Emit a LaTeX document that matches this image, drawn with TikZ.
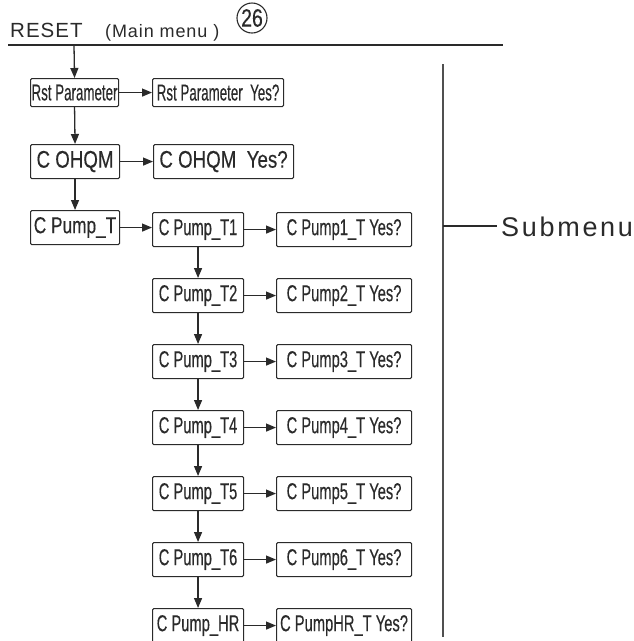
\documentclass[tikz,border=0pt]{standalone}
\usepackage{fontspec}
\setmainfont{Liberation Sans}
\newfontfamily\fA{Liberation Sans}[FakeStretch=0.64,FakeBold=0.3]
\newfontfamily\fP{Liberation Sans}[FakeStretch=0.75,FakeBold=0.3]
\newfontfamily\fR{Liberation Sans}[FakeStretch=0.58,FakeBold=0.3]
\newfontfamily\fO{Liberation Sans}[FakeStretch=0.78,FakeBold=0.3]
\newfontfamily\fT{Liberation Sans}[LetterSpace=5]
\newfontfamily\fM{Liberation Sans}[LetterSpace=5]
\newfontfamily\fS{Liberation Sans}[LetterSpace=10]
\usetikzlibrary{arrows.meta}
\definecolor{ink}{HTML}{2A2A2A}
\definecolor{rule}{HTML}{505050}
\tikzset{
  mbox/.style={draw=ink, line width=1.1pt, rounded corners=1.2pt, inner sep=0pt,
     anchor=north west, text=ink},
  arr/.style={draw=ink, line width=1.3pt, -{Triangle[length=10pt,width=8pt]}},
  plain/.style={draw=ink, line width=1.3pt},
}
\newcommand{\bx}[6]{% name, x1, y1, x2, y2, content
  \node[mbox, minimum width={(#4-#2)*1pt}, minimum height={(#5-#3)*1pt}] (#1) at (#2,#3) {#6};}
\begin{document}
\begin{tikzpicture}[x=1pt,y=-1pt]
\useasboundingbox (0,0) rectangle (634,641);
% title
\node[anchor=base west, inner sep=0pt, text=ink, font=\fT\fontsize{20.5}{20.5}\selectfont] (reset) at (10,37) {RESET};
\node[anchor=base west, inner sep=0pt, text=ink, font=\fM\fontsize{18}{18}\selectfont] (mm) at (105,37) {(Main menu )};
\node[draw=ink, line width=1.1pt, circle, minimum size=30pt, inner sep=0pt, text=ink,
      font=\fO\fontsize{25}{25}\selectfont] (num) at (252,18) {26};
\draw[draw=ink, line width=2pt] (8,45) coordinate (tl) -- (503,45) coordinate (tr);
\coordinate (top) at (74,45);
% boxes
\bx{rst}{30}{78}{118}{106}{\fR\fontsize{23}{23}\selectfont Rst Parameter}
\bx{rstY}{152}{78}{283}{106}{\fR\fontsize{23}{23}\selectfont Rst Parameter\ \ Yes?}
\bx{ohqm}{30}{144}{119}{178}{\fO\fontsize{24}{24}\selectfont C OHQM}
\bx{ohqmY}{153}{144}{293}{178}{\fO\fontsize{24}{24}\selectfont C OHQM\ \ Yes?}
\bx{pT}{30}{210}{119}{244}{\fP\fontsize{23}{23}\selectfont C Pump\_T}
\bx{t1}{152}{212}{243}{246}{\fA\fontsize{23}{23}\selectfont C Pump\_T1}
\bx{t1Y}{276}{212}{411}{246}{\fA\fontsize{23}{23}\selectfont C Pump1\_T Yes?}
\bx{t2}{152}{278}{243}{312}{\fA\fontsize{23}{23}\selectfont C Pump\_T2}
\bx{t2Y}{276}{278}{411}{312}{\fA\fontsize{23}{23}\selectfont C Pump2\_T Yes?}
\bx{t3}{152}{344}{243}{378}{\fA\fontsize{23}{23}\selectfont C Pump\_T3}
\bx{t3Y}{276}{344}{411}{378}{\fA\fontsize{23}{23}\selectfont C Pump3\_T Yes?}
\bx{t4}{152}{410}{243}{444}{\fA\fontsize{23}{23}\selectfont C Pump\_T4}
\bx{t4Y}{276}{410}{411}{444}{\fA\fontsize{23}{23}\selectfont C Pump4\_T Yes?}
\bx{t5}{152}{476}{243}{510}{\fA\fontsize{23}{23}\selectfont C Pump\_T5}
\bx{t5Y}{276}{476}{411}{510}{\fA\fontsize{23}{23}\selectfont C Pump5\_T Yes?}
\bx{t6}{152}{542}{243}{576}{\fA\fontsize{23}{23}\selectfont C Pump\_T6}
\bx{t6Y}{276}{542}{411}{576}{\fA\fontsize{23}{23}\selectfont C Pump6\_T Yes?}
\bx{hr}{152}{608}{243}{642}{\fA\fontsize{23}{23}\selectfont C Pump\_HR}
\bx{hrY}{276}{608}{411}{642}{\fA\fontsize{23}{23}\selectfont C PumpHR\_T Yes?}
% connectors
\draw[arr] (top) -- (rst.north);
\draw[arr] (rst.south) -- (ohqm.north);
\draw[arr] (ohqm.south) -- (pT.north);
\draw[arr] (rst.east) -- (rstY.west);
\draw[arr] (ohqm.east) -- (ohqmY.west);
\draw[arr] (pT.east) -- (pT.east -| t1.west);
\foreach \a/\b in {t1/t2,t2/t3,t3/t4,t4/t5,t5/t6,t6/hr}{
  \draw[arr] (\a.south) -- (\b.north);
}
\foreach \a in {t1,t2,t3,t4,t5,t6,hr}{
  \draw[arr] (\a.east) -- (\a Y.west);
}
% submenu bracket
\draw[draw=rule, line width=1.8pt] (443,64) coordinate (vt) -- (443,637) coordinate (vb);
\coordinate (tick) at (443,226);
\coordinate (tickend) at (497,226);
\draw[plain] (tick) -- (tickend);
\node[anchor=west, inner sep=0pt, text=ink, font=\fS\fontsize{27}{27}\selectfont] (sub) at (501,227) {Submenu};
\end{tikzpicture}
\end{document}
